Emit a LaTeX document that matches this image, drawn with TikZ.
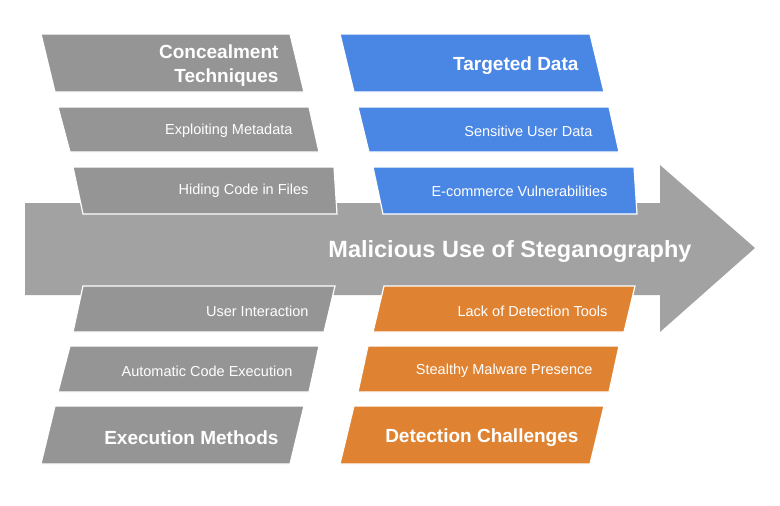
\documentclass[tikz,border=0pt]{standalone}
\usepackage{fontspec}
\setmainfont{Liberation Sans}
\usepackage{tikz}
\usetikzlibrary{positioning}
\definecolor{boneGray}{HTML}{959595}
\definecolor{spineGray}{HTML}{A2A2A2}
\definecolor{causeBlue}{HTML}{4A87E5}
\definecolor{causeOrange}{HTML}{DF8332}

\begin{document}
\begin{tikzpicture}[x=1pt,y=-1pt]
\tikzset{BoneBox/.style={draw=white, line width=1.2pt}}
\tikzset{HeadText/.style={anchor=east, text=white, font=\fontsize{19}{24}\selectfont\bfseries, align=right}}
\tikzset{ItemText/.style={anchor=east, text=white, font=\fontsize{14.5}{16}\selectfont}}

\useasboundingbox (0,0) rectangle (780,506);

% spine
\fill[spineGray] (25,203) -- (660,203) -- (660,165) -- (755,248) -- (660,332) -- (660,295) -- (25,295) -- cycle;
\node[text=white, font=\fontsize{23.5}{26}\selectfont\bfseries, anchor=east] (effect) at (695,251) {Malicious Use of Steganography};

% upper bones
\filldraw[BoneBox, fill=boneGray] (41,34) -- (290,34) -- (304,92) -- (55,92) -- cycle;
\node[HeadText] (conceal) at (282,66) {Concealment\\Techniques};
\filldraw[BoneBox, fill=boneGray] (58,107) -- (309,107) -- (319,152) -- (70,152) -- cycle;
\node[ItemText] (metadata) at (296,131) {Exploiting Metadata};
\filldraw[BoneBox, fill=boneGray] (73,167) -- (334,167) -- (337,214) -- (83,214) -- cycle;
\node[ItemText] (hiding) at (312,191) {Hiding Code in Files};

\filldraw[BoneBox, fill=causeBlue] (340,34) -- (590,34) -- (604,92) -- (354,92) -- cycle;
\node[HeadText] (targeted) at (582,66) {Targeted Data};
\filldraw[BoneBox, fill=causeBlue] (358,107) -- (609,107) -- (619,152) -- (369,152) -- cycle;
\node[ItemText] (sensitive) at (596,131) {Sensitive User Data};
\filldraw[BoneBox, fill=causeBlue] (373,167) -- (634,167) -- (637,214) -- (383,214) -- cycle;
\node[ItemText] (ecommerce) at (611,191) {E-commerce Vulnerabilities};

% lower bones
\filldraw[BoneBox, fill=boneGray] (83,286) -- (335,286) -- (324,332) -- (73,332) -- cycle;
\node[ItemText] (userint) at (312,311) {User Interaction};
\filldraw[BoneBox, fill=boneGray] (70,346) -- (319,346) -- (309,392) -- (58,392) -- cycle;
\node[ItemText] (autoexec) at (296,371) {Automatic Code Execution};
\filldraw[BoneBox, fill=boneGray] (55,406) -- (304,406) -- (290,464) -- (41,464) -- cycle;
\node[HeadText] (execution) at (282,438) {Execution Methods};

\filldraw[BoneBox, fill=causeOrange] (384,286) -- (635,286) -- (624,332) -- (373,332) -- cycle;
\node[ItemText] (lackdet) at (611,311) {Lack of Detection Tools};
\filldraw[BoneBox, fill=causeOrange] (368,346) -- (619,346) -- (609,392) -- (358,392) -- cycle;
\node[ItemText] (stealthy) at (596,371) {Stealthy Malware Presence};
\filldraw[BoneBox, fill=causeOrange] (354,406) -- (604,406) -- (590,464) -- (340,464) -- cycle;
\node[HeadText] (detection) at (582,438) {Detection Challenges};
\end{tikzpicture}
\end{document}
